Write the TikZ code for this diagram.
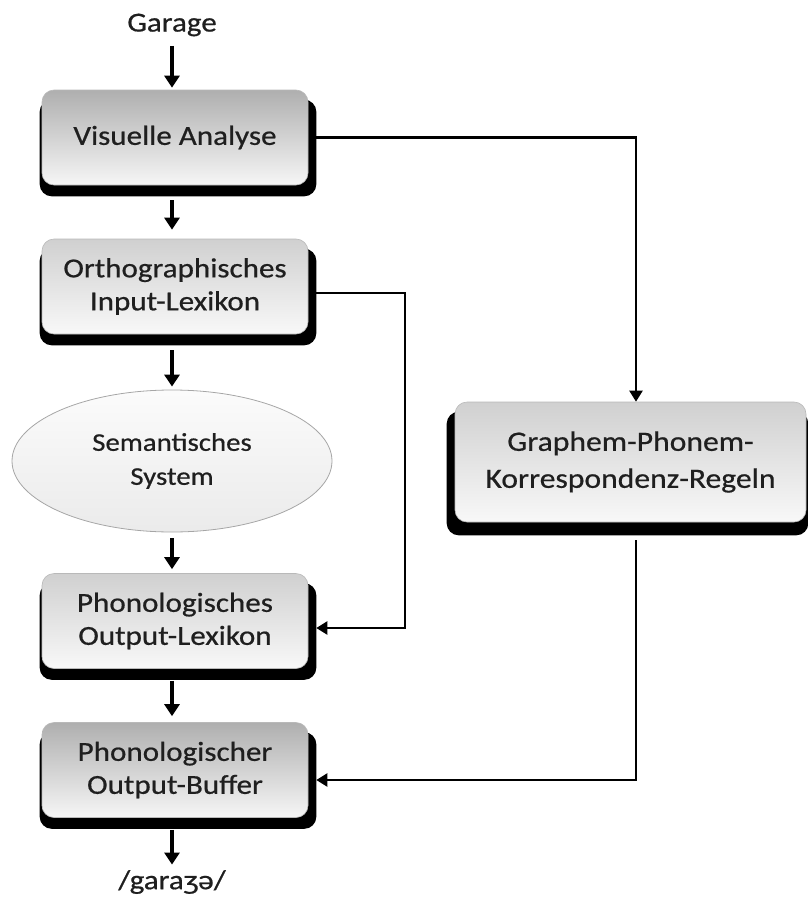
\documentclass[tikz,border=0pt]{standalone}
\usepackage{fontspec}
\setmainfont{Carlito}[FakeStretch=1.13,FakeBold=0.6]
\usetikzlibrary{arrows.meta,calc,backgrounds,shapes.geometric}
\definecolor{txt}{gray}{0.12}
\tikzset{
  box/.style={rounded corners=12pt, draw=gray!55, line width=0.6pt, minimum width=266pt, minimum height=95pt,
     align=center, text=txt, font=\fontsize{27.5}{33}\selectfont},
  darkbox/.style={box, top color={rgb,255:red,175;green,175;blue,175}, bottom color={rgb,255:red,246;green,246;blue,246}},
  lightbox/.style={box, top color={rgb,255:red,208;green,208;blue,208}, bottom color={rgb,255:red,248;green,248;blue,248}},
  shad/.style={fill=black, rounded corners=12pt},
  bigarrow/.style={line width=3.5pt, -{Triangle[width=15pt,length=12pt]}},
  conn/.style={line width=2.2pt, -{Triangle[width=13pt,length=11pt]}},
  label/.style={text=txt, font=\fontsize{27.5}{30}\selectfont}
}
\begin{document}
\begin{tikzpicture}[x=1pt,y=-1pt]
\useasboundingbox (0,0) rectangle (808,902);

\node[label] (garage) at (172,25) {Garage};
\node[darkbox] (va) at (175,137.5) {Visuelle Analyse};
\node[lightbox] (oil) at (175,286.5) {Orthographisches\\Input-Lexikon};
\node[ellipse, minimum width=320pt, minimum height=142pt, draw=gray!70, line width=0.8pt,
      top color=gray!3, bottom color=gray!16, align=center, text=txt,
      font=\fontsize{25.5}{34}\selectfont] (sem) at (172,461) {Semantisches\\System};
\node[lightbox] (pol) at (175,621) {Phonologisches\\Output-Lexikon};
\node[darkbox] (pob) at (175,770) {Phonologischer\\Output-Buffer};
\node[lightbox, minimum width=351pt, minimum height=120pt, font=\fontsize{28}{37}\selectfont] (gpk) at (630.5,462) {Graphem-Phonem-\\Korrespondenz-Regeln};
\node[label] (out) at (172,882) {/garaʒə/};

\begin{scope}[on background layer]
  \foreach \n in {va,oil,pol,pob}{
    \fill[shad] ($(\n.north west)+(-2,10)$) rectangle ($(\n.south east)+(8,11)$);
  }
  \fill[shad] ($(gpk.north west)+(-8,10)$) rectangle ($(gpk.south east)+(2,13)$);
\end{scope}

% coordinates for connector ends
\coordinate (vaE) at ($(va.east)+(8,0)$);
\coordinate (oilE) at ($(oil.east)+(8,6.5)$);
\coordinate (polE) at ($(pol.east)+(8,7)$);
\coordinate (pobE) at ($(pob.east)+(8,10)$);
\coordinate (gpkS) at ($(gpk.south)+(5.5,18)$);
\coordinate (gpkN) at ($(gpk.north)+(5.5,0)$);

\draw[bigarrow] ($(garage.south)+(0,6)$) -- ($(va.north)+(-3,-2)$);
\draw[bigarrow] ($(va.south)+(-3,15)$) -- ($(oil.north)+(-3,-9)$);
\draw[bigarrow] ($(oil.south)+(-3,16)$) -- ($(sem.north)+(0,-3)$);
\draw[bigarrow] ($(sem.south)+(0,6)$) -- ($(pol.north)+(-3,-4)$);
\draw[bigarrow] ($(pol.south)+(-3,12)$) -- ($(pob.north)+(-3,-6)$);
\draw[bigarrow] ($(pob.south)+(-3,12)$) -- ($(out.north)+(0,-2)$);

\draw[conn] (vaE) -| (gpkN);
\draw[conn] (oilE) -- ++(89,0) |- (polE);
\draw[conn] (gpkS) |- (pobE);
\end{tikzpicture}
\end{document}
